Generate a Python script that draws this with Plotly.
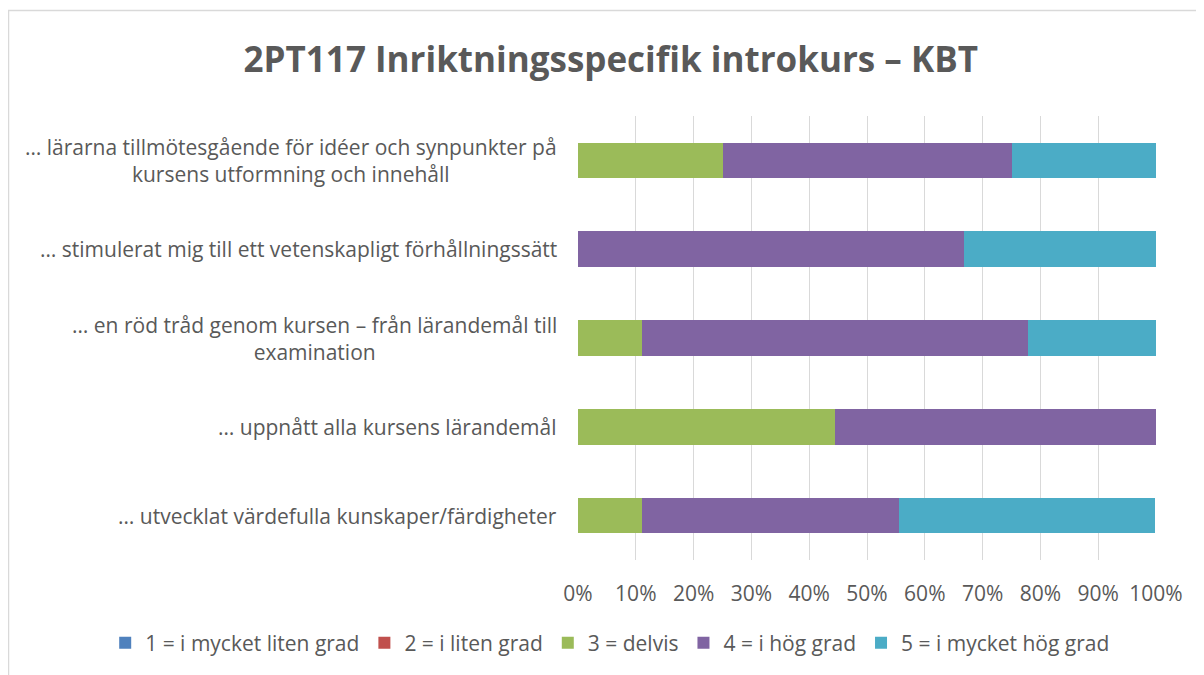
import plotly.graph_objects as go

categories = [
    "… lärarna tillmötesgående för idéer och synpunkter på<br>kursens utformning och innehåll",
    "… stimulerat mig till ett vetenskapligt förhållningssätt",
    "… en röd tråd genom kursen – från lärandemål till<br>examination",
    "… uppnått alla kursens lärandemål",
    "… utvecklat värdefulla kunskaper/färdigheter",
]
series_names = [
    "1 = i mycket liten grad",
    "2 = i liten grad",
    "3 = delvis",
    "4 = i hög grad",
    "5 = i mycket hög grad",
]
v1 = [0, 0, 0, 0, 0]
v2 = [0, 0, 0, 0, 0]
v3 = [25.0, 0, 11.1, 44.4, 11.1]
v4 = [50.0, 66.7, 66.7, 55.6, 44.4]
v5 = [25.0, 33.3, 22.2, 0, 44.4]
colors = ["#4F81BD", "#C0504D", "#9BBB59", "#8064A2", "#4BACC6"]
x_ticks = [0, 10, 20, 30, 40, 50, 60, 70, 80, 90, 100]

FONT = "Open Sans"
GRAY = "#595959"

fig = go.Figure()
for name, vals, col in zip(series_names, [v1, v2, v3, v4, v5], colors):
    fig.add_trace(go.Bar(
        y=categories, x=vals, name=name, orientation="h",
        marker=dict(color=col, line=dict(width=0)),
        width=0.4,
    ))

for c in categories:
    fig.add_annotation(
        x=0, xref="paper", y=c, yref="y", text=c, showarrow=False,
        xanchor="right", align="center", xshift=-19,
        font=dict(family=FONT, size=21, color=GRAY),
    )

fig.add_shape(type="rect", xref="paper", yref="paper",
              x0=-0.9853, x1=1.2, y0=-0.5, y1=1.2376,
              line=dict(color="#D9D9D9", width=1.5), fillcolor="rgba(0,0,0,0)", layer="below")

fig.update_layout(
    width=1196, height=667,
    margin=dict(l=570, r=48, t=108, b=115, autoexpand=False),
    paper_bgcolor="white", plot_bgcolor="white",
    barmode="stack",
    title=dict(text="<b>2PT117 Inriktningsspecifik introkurs – KBT</b>",
               x=0.504, xref="container", xanchor="center",
               y=0.922, yref="container", yanchor="middle",
               font=dict(family=FONT, size=35, color=GRAY)),
    xaxis=dict(range=[0, 100], tickvals=x_ticks,
               ticktext=[f"{t}%" for t in x_ticks],
               showgrid=True, gridcolor="#D9D9D9", gridwidth=1.3,
               zeroline=False, showline=False,
               ticks="", ticklabelstandoff=19,
               tickfont=dict(family=FONT, size=21, color=GRAY)),
    yaxis=dict(autorange="reversed", showticklabels=False, showgrid=False,
               zeroline=False, showline=False, ticks=""),
    legend=dict(orientation="h", x=-0.818, xanchor="left",
                y=-0.187, yanchor="middle",
                font=dict(family=FONT, size=21, color=GRAY),
                traceorder="normal"),
    showlegend=True,
)

fig.write_html("out.html")
